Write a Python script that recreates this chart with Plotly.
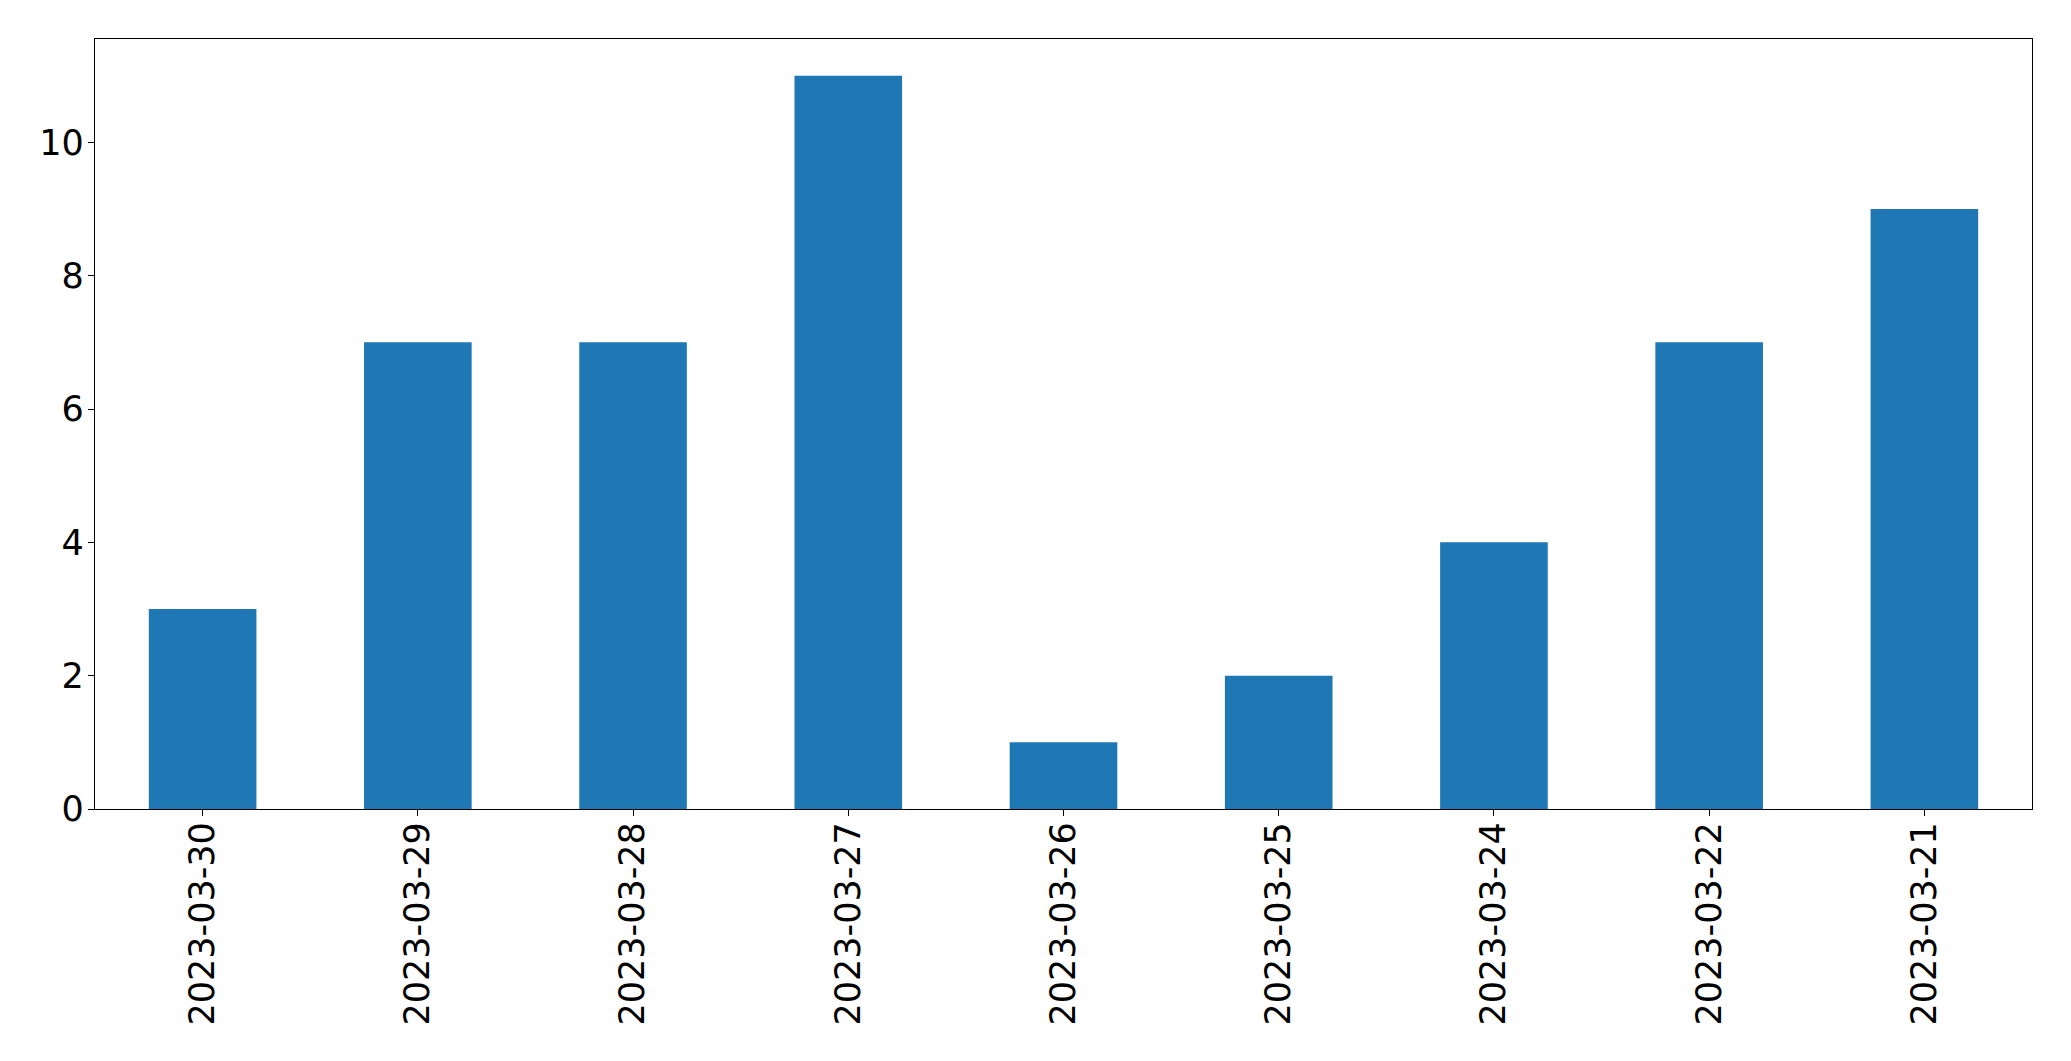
import plotly.graph_objects as go

dates = ["2023-03-30", "2023-03-29", "2023-03-28", "2023-03-27", "2023-03-26",
         "2023-03-25", "2023-03-24", "2023-03-22", "2023-03-21"]
counts = [3, 7, 7, 11, 1, 2, 4, 7, 9]
y_ticks = [0, 2, 4, 6, 8, 10]

fig = go.Figure(go.Bar(x=dates, y=counts, width=0.5, marker=dict(color="#1f77b4", line=dict(width=0))))

# page body has an 8px default margin, so the figure is offset by 8px
fig.update_layout(
    width=2063, height=1053,
    margin=dict(l=87, r=39, t=31, b=252, pad=0, autoexpand=False),
    paper_bgcolor="white", plot_bgcolor="white",
    font=dict(family="DejaVu Sans", size=35, color="black"),
    showlegend=False,
)
fig.update_xaxes(
    type="category", range=[-0.5, 8.5], tickangle=-90, automargin=False,
    ticklabelstandoff=-8,
    showline=True, linecolor="black", linewidth=1.3, mirror=True,
    ticks="outside", ticklen=6, tickcolor="black", tickwidth=1.3,
    showgrid=False, zeroline=False,
)
fig.update_yaxes(
    range=[0, 11.55], tickvals=y_ticks, automargin=False,
    ticklabelstandoff=-3,
    showline=True, linecolor="black", linewidth=1.3, mirror=True,
    ticks="outside", ticklen=6, tickcolor="black", tickwidth=1.3,
    showgrid=False, zeroline=False,
)
fig.write_html("out.html")
